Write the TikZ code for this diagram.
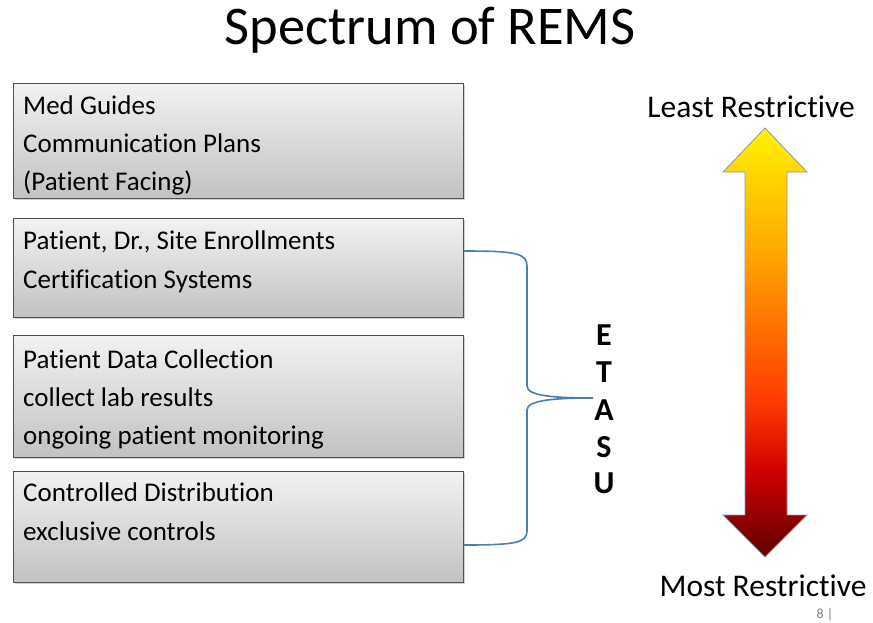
\documentclass[tikz,border=0pt]{standalone}
\usepackage{fontspec}
\setmainfont{Carlito}[Ligatures=NoCommon]
\usetikzlibrary{shadows}
\definecolor{bracecol}{HTML}{4A7EBB}
\definecolor{boxtop}{HTML}{F2F2F2}
\definecolor{boxbot}{HTML}{C2C2C2}
\definecolor{boxline}{HTML}{505050}
\definecolor{ayellow}{HTML}{FFF200}
\definecolor{aorange}{HTML}{FFAA00}
\definecolor{aredor}{HTML}{FF3A00}
\definecolor{ared}{HTML}{D00000}
\definecolor{adark}{HTML}{5E0000}
\definecolor{aline}{HTML}{8A9AAA}
\pgfdeclareverticalshading{restr}{100bp}{color(0bp)=(adark); color(25bp)=(adark); color(35bp)=(ared); color(43bp)=(aredor); color(61bp)=(aorange); color(75bp)=(ayellow); color(100bp)=(ayellow)}
\tikzset{
  infobox/.style={draw=boxline, line width=0.8pt, top color=boxtop, bottom color=boxbot,
    rectangle, anchor=north west, inner sep=0pt, minimum width=450pt,
    drop shadow={shadow xshift=1.5pt, shadow yshift=-2pt, opacity=0.35}},
  boxtext/.style={anchor=base west, inner sep=0pt, font=\fontsize{27}{32}\selectfont},
  letter/.style={anchor=base, inner sep=0pt, font=\fontsize{32}{38}\selectfont\bfseries},
  label/.style={anchor=base, inner sep=0pt, font=\fontsize{31.5}{38}\selectfont},
  bracepath/.style={draw=bracecol, line width=1.6pt}
}
\begin{document}
\begin{tikzpicture}[x=1pt,y=-1pt]
\useasboundingbox (0,0) rectangle (873,622);
\fill[white] (0,0) rectangle (873,622);

% title
\node[anchor=base, inner sep=0pt, font=\fontsize{54.5}{64}\selectfont] (title) at (430,44) {Spectrum of REMS};

% boxes
\node[infobox, minimum height=115pt] (b1) at (13,83) {};
\node[infobox, minimum height=99pt] (b2) at (13,218) {};
\node[infobox, minimum height=122pt] (b3) at (13,335) {};
\node[infobox, minimum height=111pt] (b4) at (13,471) {};

\node[boxtext] (t1a) at (23,114) {Med Guides};
\node[boxtext] (t1b) at (23,152) {Communication Plans};
\node[boxtext] (t1c) at (23,190) {(Patient Facing)};
\node[boxtext] (t2a) at (23,249) {Patient, Dr., Site Enrollments};
\node[boxtext] (t2b) at (23,288) {Certification Systems};
\node[boxtext] (t3a) at (23,368) {Patient Data Collection};
\node[boxtext] (t3b) at (23,406) {collect lab results};
\node[boxtext] (t3c) at (23,444) {ongoing patient monitoring};
\node[boxtext] (t4a) at (23,501) {Controlled Distribution};
\node[boxtext] (t4b) at (23,540) {exclusive controls};

% brace
\coordinate (btop) at (b2.east |- 0,251);
\coordinate (bbot) at (b4.east |- 0,545);
\coordinate (btip) at (593,398);
\draw[bracepath] (btop) .. controls (515,251) and (527,253) .. (527,266)
  -- (527,386) .. controls (527,396) and (555,398) .. (btip)
  .. controls (555,398) and (527,400) .. (527,410)
  -- (527,531) .. controls (527,543) and (515,545) .. (bbot);

% ETASU
\node[letter] (lE) at (604,345) {E};
\node[letter] (lT) at (604,382) {T};
\node[letter] (lA) at (604,420) {A};
\node[letter] (lS) at (604,457) {S};
\node[letter] (lU) at (604,493) {U};

% arrow
\shade[shading=restr, draw=aline, line width=0.8pt, line join=miter]
  (765,128) -- (807,172) -- (787,172) -- (787,515) -- (807,515) -- (765,557)
  -- (723,515) -- (745,515) -- (745,172) -- (723,172) -- cycle;

\node[label] (least) at (751,117) {Least Restrictive};
\node[label] (most) at (763,596) {Most Restrictive};
\node[anchor=base, inner sep=0pt, font=\fontsize{14}{16}\selectfont, text=gray] (pg) at (825,618) {8 |};
\end{tikzpicture}
\end{document}
